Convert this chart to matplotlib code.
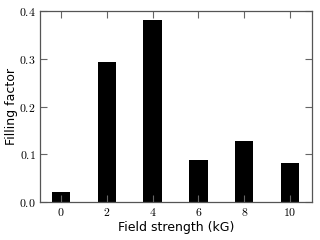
import matplotlib
matplotlib.use("Agg")
import matplotlib.pyplot as plt

# data
field = [0, 2, 4, 6, 8, 10]
filling = [0.021, 0.293, 0.382, 0.089, 0.128, 0.082]

plt.rcParams['mathtext.fontset'] = 'cm'

fig = plt.figure(figsize=(3.2, 2.4), dpi=100)
ax = fig.add_axes([40 / 320, 38 / 240, 272 / 320, 191 / 240])

ax.bar(field, filling, width=0.8, color="black")

ax.set_xlim(-0.92, 10.96)
ax.set_ylim(0, 0.4)
ax.set_xticks(field)
ax.set_xticklabels(["$%d$" % v for v in field], fontsize=8.5)
yt = [0.0, 0.1, 0.2, 0.3, 0.4]
ax.set_yticks(yt)
ax.set_yticklabels(["$%.1f$" % v for v in yt], fontsize=8.5)

ax.tick_params(direction="in", top=True, right=True, length=5, width=0.8,
               color="#666666", pad=3)
for s in ax.spines.values():
    s.set_color("#555555")
    s.set_linewidth(0.9)

ax.set_xlabel("Field strength (kG)", fontsize=9, labelpad=1)
ax.set_ylabel("Filling factor", fontsize=9, labelpad=1)

fig.savefig("out.png", dpi=100)
